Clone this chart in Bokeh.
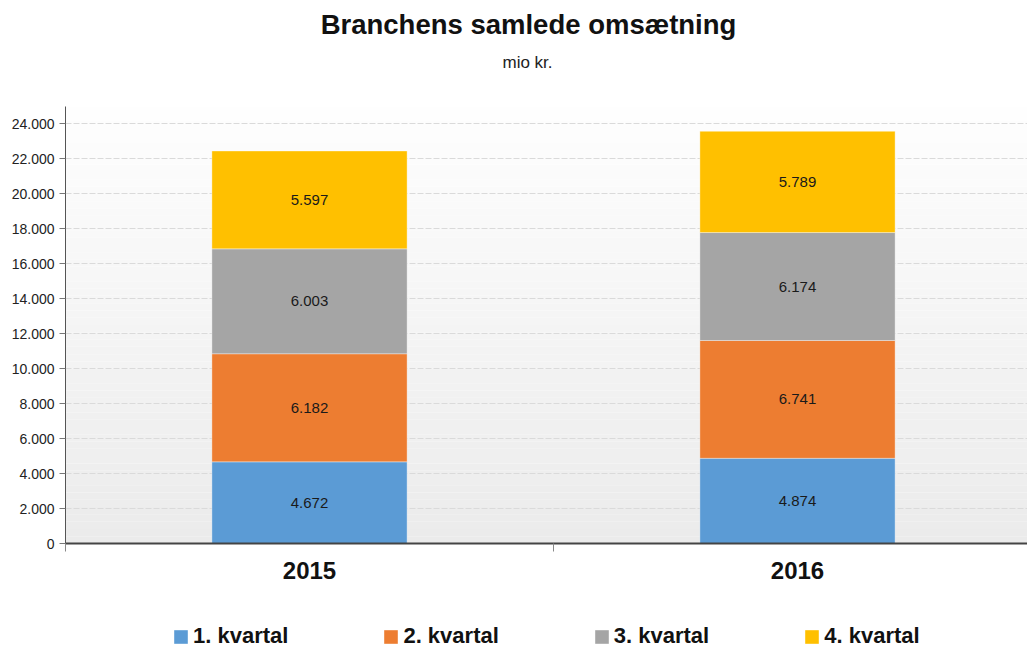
from bokeh.plotting import figure
from bokeh.layouts import column
from bokeh.models import (Range1d, FixedTicker, Legend, LegendItem, Label,
                          ColumnDataSource, LabelSet, BoxAnnotation)
from bokeh.core.properties import value
from bokeh.embed import file_html
from bokeh.resources import INLINE

years = ["2015", "2016"]
quarters = ["1. kvartal", "2. kvartal", "3. kvartal", "4. kvartal"]
q1 = [4672, 4874]
q2 = [6182, 6741]
q3 = [6003, 6174]
q4 = [5597, 5789]
colors = ["#5B9BD5", "#ED7D31", "#A5A5A5", "#FFC000"]
y_ticks = list(range(0, 24001, 2000))
title_text = "Branchens samlede omsætning"
subtitle_text = "mio kr."

FONT = "Liberation Sans"
Y_MAX = 25000
W = 1027
H_HEAD, H_MAIN, H_LEG = 100, 512, 37
LEFT = 65


def strip(h):
    # column() aligns frames with the main chart, so the frame spans LEFT..W
    f = figure(width=W, height=h, output_backend="svg", toolbar_location=None,
               x_range=Range1d(LEFT, W), y_range=Range1d(0, h),
               x_axis_location=None, y_axis_location=None, min_border=0,
               outline_line_color=None, border_fill_color="white",
               background_fill_color="white")
    f.grid.visible = False
    return f


# ---- header with title and subtitle
head = strip(H_HEAD)
head.add_layout(Label(x=528, y=H_HEAD - 24, text=title_text, text_align="center",
                      text_baseline="middle", text_font=FONT, text_font_size="27.5px",
                      text_font_style="bold", text_color="#111111"))
head.add_layout(Label(x=527, y=H_HEAD - 62, text=subtitle_text, text_align="center",
                      text_baseline="middle", text_font=FONT, text_font_size="17px",
                      text_color="#222222"))

# ---- main chart
p = figure(width=W, height=H_MAIN, output_backend="svg", toolbar_location=None,
           x_range=Range1d(0, (W - LEFT) / 488), y_range=Range1d(0, Y_MAX),
           min_border_left=LEFT, min_border_right=0, min_border_top=6,
           min_border_bottom=69, background_fill_color="white",
           border_fill_color="white", outline_line_color=None)

# background gradient of the plot area (white at top -> light gray at bottom)
n = 60
for i in range(n):
    f = i / (n - 1)
    g = int(round(0xEB + (0xFE - 0xEB) * f))
    p.add_layout(BoxAnnotation(bottom=Y_MAX * i / n, top=Y_MAX * (i + 1) / n,
                               fill_color=(g, g, g), fill_alpha=1.0,
                               line_color=None, level="image"))

xs = [i + 0.5 for i in range(len(years))]
series = [q1, q2, q3, q4]
bottoms = [0] * len(years)
for vals, col in zip(series, colors):
    tops = [b + v for b, v in zip(bottoms, vals)]
    src = ColumnDataSource(dict(x=xs, bottom=bottoms, top=tops,
                                mid=[(b + t) / 2 for b, t in zip(bottoms, tops)],
                                lbl=[f"{v:,}".replace(",", ".") for v in vals]))
    p.vbar(x="x", width=0.4, bottom="bottom", top="top", source=src,
           fill_color=col, line_color="white", line_alpha=0.35, line_width=1)
    p.add_layout(LabelSet(x="x", y="mid", text="lbl", source=src,
                          text_align="center", text_baseline="middle",
                          text_font=value(FONT), text_font_size=value("15px"),
                          text_color="#1a1a1a"))
    bottoms = tops

# y axis
p.yaxis.ticker = FixedTicker(ticks=y_ticks)
p.yaxis.major_label_overrides = {v: f"{v:,}".replace(",", ".") for v in y_ticks}
p.yaxis.major_label_text_font = FONT
p.yaxis.major_label_text_font_size = "14px"
p.yaxis.major_label_text_color = "#222222"
p.yaxis.axis_line_color = "#555555"
p.yaxis.major_tick_line_color = "#777777"
p.yaxis.major_tick_out = 6
p.yaxis.major_tick_in = 0
p.yaxis.minor_tick_line_color = None
p.yaxis.major_label_standoff = 5

# x axis
p.xaxis.ticker = FixedTicker(ticks=xs, minor_ticks=[0, 1, 2])
p.xaxis.major_label_overrides = {x: y for x, y in zip(xs, years)}
p.xaxis.major_label_text_font = FONT
p.xaxis.major_label_text_font_style = "bold"
p.xaxis.major_label_text_font_size = "24px"
p.xaxis.major_label_text_color = "#111111"
p.xaxis.major_tick_line_color = None
p.xaxis.minor_tick_line_color = "#888888"
p.xaxis.minor_tick_out = 8
p.xaxis.minor_tick_in = 0
p.xaxis.axis_line_color = "#444444"
p.xaxis.axis_line_width = 2
p.xaxis.major_label_standoff = 10

p.xgrid.grid_line_color = None
p.ygrid.ticker = FixedTicker(ticks=y_ticks)
p.ygrid.grid_line_color = "#dadada"
p.ygrid.grid_line_dash = "6 2"

# ---- legend strip below the chart
lg = strip(H_LEG)
items = []
for q, col in zip(quarters, colors):
    r = lg.vbar(x=[0], top=[0], width=0, fill_color=col, line_color=None)
    items.append(LegendItem(label=q, renderers=[r]))
legend = Legend(items=items, orientation="horizontal", location=(107, 0),
                label_text_font=FONT, label_text_font_style="bold",
                label_text_font_size="22px", label_text_color="#111111",
                glyph_width=17, glyph_height=17, label_standoff=4, spacing=94,
                padding=0, margin=0, border_line_color=None,
                background_fill_alpha=0, label_height=22)
lg.add_layout(legend, "center")

layout = column(head, p, lg, spacing=0)
open("out.html", "w").write(file_html(layout, INLINE))
